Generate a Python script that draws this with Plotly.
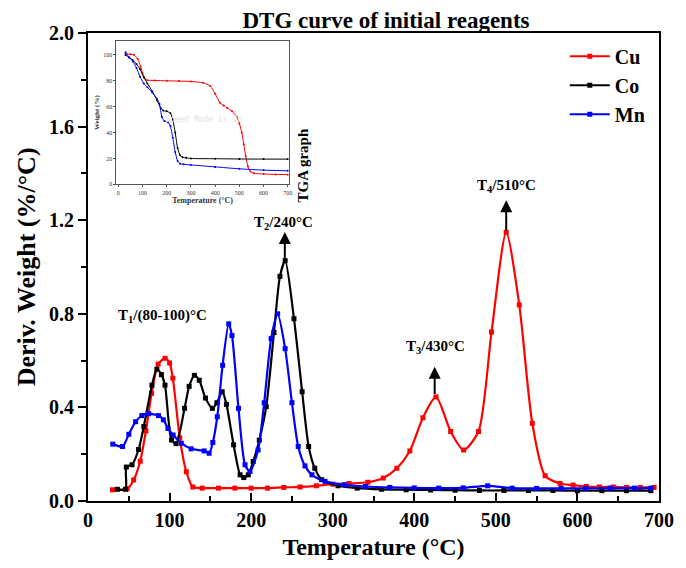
import plotly.graph_objects as go

# ---- main DTG data ----
cu_x = [30, 48, 56, 64, 71, 78, 86, 94.5, 100, 104, 112.5, 120.5, 128.5, 140, 160, 180, 200, 220, 240, 260,
        280, 300, 320, 343, 362, 378.6, 394.6, 410.6, 426.6, 444.6, 460.5, 478.7, 494.7, 512.7, 528.7, 544.7,
        560.4, 578.7, 594.7, 611, 627, 644, 660, 677, 694]
cu_y = [0.048, 0.052, 0.09, 0.17, 0.30, 0.46, 0.585, 0.61, 0.59, 0.525, 0.27, 0.125, 0.06, 0.055, 0.055, 0.055,
        0.055, 0.055, 0.058, 0.06, 0.065, 0.072, 0.075, 0.08, 0.098, 0.14, 0.214, 0.356, 0.445, 0.297, 0.218,
        0.297, 0.722, 1.148, 0.838, 0.332, 0.108, 0.075, 0.068, 0.062, 0.06, 0.06, 0.058, 0.058, 0.058]

co_x = [36, 46, 47, 54, 62, 68.4, 78.4, 84.4, 90, 94.4, 102.4, 108, 118.4, 124, 130.4, 136.4, 144, 152.5, 158,
        164.5, 169.7, 178.5, 186.5, 191, 196.5, 202.5, 210, 218.5, 228, 235.3, 241.7, 252.5, 262.5, 270.5, 278,
        286.5, 306.5, 330, 360, 390, 420, 450, 480, 510, 540, 570, 600, 630, 660, 690]
co_y = [0.05, 0.05, 0.145, 0.155, 0.22, 0.318, 0.495, 0.563, 0.54, 0.495, 0.261, 0.245, 0.396, 0.49, 0.537,
        0.516, 0.44, 0.396, 0.42, 0.467, 0.413, 0.24, 0.112, 0.1, 0.112, 0.169, 0.26, 0.403, 0.72, 0.96, 1.027,
        0.779, 0.467, 0.233, 0.14, 0.091, 0.065, 0.055, 0.05, 0.048, 0.047, 0.046, 0.045, 0.045, 0.045, 0.045,
        0.044, 0.044, 0.044, 0.044]

mn_x = [30.4, 42.4, 50, 58.4, 66, 74.4, 86.4, 92.4, 98, 104.4, 114.4, 126.4, 142.4, 148.5, 153, 158.5, 165,
        172.5, 176.5, 184.5, 192.5, 198.5, 208.5, 216, 224.5, 232.5, 241.7, 250, 257.7, 266, 274.5, 290.6,
        314.6, 340, 370, 400, 430, 460, 490, 520, 550, 580, 610, 640, 670, 690]
mn_y = [0.243, 0.233, 0.285, 0.339, 0.365, 0.373, 0.365, 0.347, 0.31, 0.282, 0.247, 0.223, 0.214, 0.204, 0.25,
        0.36, 0.58, 0.757, 0.707, 0.396, 0.155, 0.126, 0.218, 0.42, 0.694, 0.8, 0.651, 0.42, 0.233, 0.15,
        0.112, 0.084, 0.069, 0.062, 0.058, 0.056, 0.055, 0.056, 0.065, 0.055, 0.054, 0.054, 0.054, 0.055,
        0.055, 0.055]

# ---- inset TGA data ----
tga_cu_x = [30, 50, 65, 80, 92, 100, 108, 120, 150, 200, 250, 300, 350, 380, 400, 420, 435, 450, 470, 490, 500,
            510, 518, 526, 535, 545, 560, 600, 650, 700]
tga_cu_y = [101, 100.5, 100, 97, 91, 86, 82, 80.5, 80.3, 80, 79.8, 79.5, 78.5, 76, 70, 63, 61, 59, 56.5, 52, 47,
            40, 31, 22, 14, 10, 8.5, 8, 7.7, 7.5]
tga_co_x = [30, 45, 60, 75, 90, 105, 120, 140, 160, 175, 185, 200, 215, 225, 235, 245, 255, 265, 280, 300, 400,
            500, 600, 700]
tga_co_y = [100, 98, 96, 93, 89, 83, 78, 72, 65, 59, 57, 56.5, 55, 50, 40, 28, 22.5, 21, 20.5, 20, 19.8, 19.6,
            19.5, 19.5]
tga_mn_x = [30, 45, 60, 75, 90, 105, 120, 140, 160, 170, 180, 190, 205, 215, 225, 235, 245, 255, 270, 300, 400,
            500, 600, 700]
tga_mn_y = [102, 98, 95, 90, 83, 78, 75, 71, 66, 62, 52, 49, 48, 45, 36, 25, 18, 16, 15.5, 15, 13.5, 12, 11, 10.5]

names = ["Cu", "Co", "Mn"]
colors = ["#ff0000", "#000000", "#0000ff"]

x_ticks = [0, 100, 200, 300, 400, 500, 600, 700]
y_ticks = [0.0, 0.4, 0.8, 1.2, 1.6, 2.0]

FONT = "Liberation Serif"

# page has an 8px body margin: figure is 678x560 so that the plot lands where the reference has it
W, H = 678, 560
L, R, T, B = 80, 15, 25, 57
PW = W - L - R
PH = H - T - B

fig = go.Figure()
for xs, ys, n, c in zip([cu_x, co_x, mn_x], [cu_y, co_y, mn_y], names, colors):
    fig.add_trace(go.Scatter(x=xs, y=ys, name=n, mode="lines+markers",
                             line=dict(color=c, width=2.2, shape="spline", smoothing=0.7),
                             marker=dict(symbol="square", size=5, color=c)))

for xs, ys, c in zip([tga_cu_x, tga_co_x, tga_mn_x], [tga_cu_y, tga_co_y, tga_mn_y], colors):
    fig.add_trace(go.Scatter(x=xs, y=ys, mode="lines+markers", showlegend=False,
                             xaxis="x2", yaxis="y2",
                             line=dict(color=c, width=1, shape="spline", smoothing=0.6),
                             marker=dict(symbol="circle", size=2, color=c)))

axis_font = dict(family=FONT, size=20, color="black", weight="bold")

fig.update_layout(
    width=W, height=H,
    margin=dict(l=L, r=R, t=T, b=B),
    paper_bgcolor="white", plot_bgcolor="white",
    font=dict(family=FONT, color="black"),
    title=dict(text="DTG curve of initial reagents", x=(386 - 8) / W, y=1 - 12 / H,
               xanchor="center", yanchor="middle",
               font=dict(family=FONT, size=23, color="black", weight="bold")),
    showlegend=True,
    legend=dict(x=0.835, y=0.992, xanchor="left", yanchor="top", bgcolor="rgba(0,0,0,0)",
                font=dict(family=FONT, size=20, color="black", weight="bold"), itemwidth=40,
                tracegroupgap=2),
    xaxis=dict(range=[0, 700], tickvals=x_ticks, ticktext=[str(v) for v in x_ticks],
               showgrid=False, zeroline=False, showline=True, linecolor="black", linewidth=2, mirror=True,
               ticks="inside", ticklen=8, tickwidth=2, tickcolor="black",
               minor=dict(dtick=50, ticks="inside", ticklen=5, tickwidth=1.5, tickcolor="black"),
               tickfont=axis_font,
               title=dict(text="Temperature (°C)", standoff=8,
                          font=dict(family=FONT, size=24, color="black", weight="bold"))),
    yaxis=dict(range=[0, 2.0], tickvals=y_ticks, ticktext=[f"{v:.1f}" for v in y_ticks],
               showgrid=False, zeroline=False, showline=True, linecolor="black", linewidth=2, mirror=True,
               ticks="outside", ticklen=8, tickwidth=2, tickcolor="black",
               minor=dict(dtick=0.2, ticks="outside", ticklen=5, tickwidth=1.5, tickcolor="black"),
               tickfont=axis_font),
    xaxis2=dict(domain=[0.0497, 0.3516], anchor="y2", range=[-8, 704], tickvals=x_ticks,
                showgrid=False, zeroline=False, showline=True, linecolor="#555", linewidth=1, mirror=True,
                ticks="outside", ticklen=2, tickcolor="#555", tickfont=dict(family=FONT, size=6, color="#333"),
                title=dict(text="Temperature (°C)", standoff=2,
                           font=dict(family=FONT, size=8, color="#333", weight="bold"))),
    yaxis2=dict(domain=[0.6766, 0.983], anchor="x2", range=[0, 110.8], tickvals=[0, 20, 40, 60, 80, 100],
                showgrid=False, zeroline=False, showline=True, linecolor="#555", linewidth=1, mirror=True,
                ticks="outside", ticklen=2, tickcolor="#555", tickfont=dict(family=FONT, size=6, color="#333"),
                title=dict(text="Weight (%)", standoff=2,
                           font=dict(family=FONT, size=7, color="#333", weight="bold"))),
)

# y-axis title as rotated text, centered at page x~25
fig.add_annotation(x=(25 - 8 - L) / PW, y=0.5, xref="paper", yref="paper", text="Deriv. Weight (%/°C)",
                   textangle=-90, showarrow=False, xanchor="center", yanchor="middle",
                   font=dict(family=FONT, size=26, color="black", weight="bold"))

ann_font = dict(family=FONT, size=15, color="black", weight="bold")
# arrows: (x, y_base, y_tip)
arrows = [(241.3, 1.03, 1.15), (425, 0.451, 0.574), (512.7, 1.15, 1.285)]
for ax_, yb, yt in arrows:
    fig.add_annotation(x=ax_, y=yt, ax=ax_, ay=yb, xref="x", yref="y", axref="x", ayref="y",
                       showarrow=True, arrowhead=2, arrowsize=1.2, arrowwidth=2, arrowcolor="black", text="")

labels = [(91, 0.79, "T<sub>1</sub>/(80-100)°C"), (239.5, 1.19, "T<sub>2</sub>/240°C"),
          (425.6, 0.66, "T<sub>3</sub>/430°C"), (512.7, 1.345, "T<sub>4</sub>/510°C")]
for lx, ly, lt in labels:
    fig.add_annotation(x=lx, y=ly, xref="x", yref="y", text=lt, showarrow=False, font=ann_font)

fig.add_annotation(x=(308 - 8 - L) / PW, y=(495 - 112) / PH, xref="paper", yref="paper", text="TGA graph",
                   textangle=-90, showarrow=False,
                   font=dict(family=FONT, size=15, color="black", weight="bold"))
fig.add_annotation(x=350, y=50, xref="x2", yref="y2", text="Speed Mode is On", showarrow=False,
                   font=dict(family="DejaVu Sans Mono", size=8, color="#e2e2e2"))

fig.write_html("out.html")
